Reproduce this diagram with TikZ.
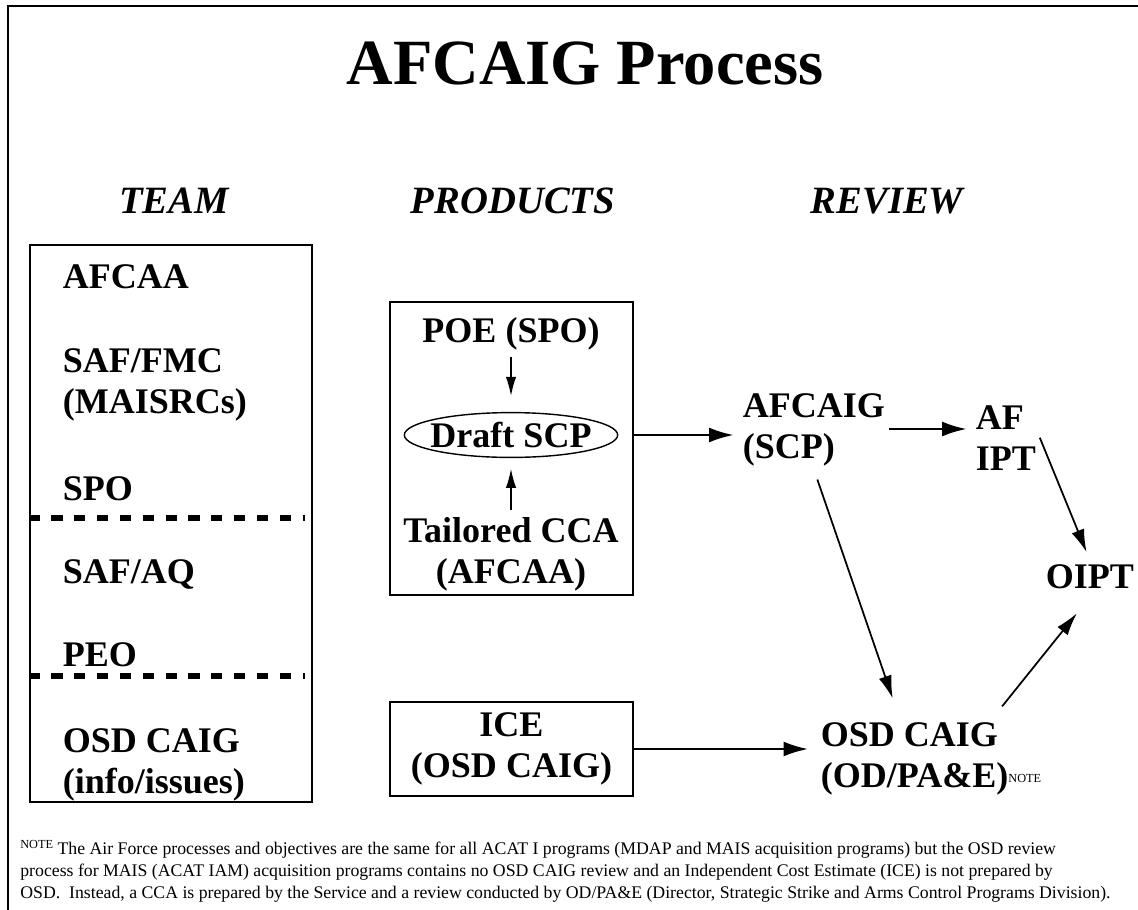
\documentclass[tikz,border=0pt]{standalone}
\usepackage{fontspec}
\setmainfont{Liberation Serif}
\usetikzlibrary{arrows.meta,positioning,fit,shapes.geometric}

\newcommand{\notemark}[1]{\raisebox{#1}{\fontsize{7}{7}\selectfont NOTE}}

\begin{document}
\begin{tikzpicture}[x=0.02cm,y=-0.02cm,>={Latex[length=13pt,width=7.5pt]},
        every node/.style={inner sep=2pt},
        label node/.style={font=\fontsize{20.5}{23.3}\selectfont\bfseries,align=left,anchor=base west},
        head node/.style={font=\fontsize{22}{26}\selectfont\bfseries\itshape,anchor=base},
        box/.style={draw,line width=1.6pt,inner sep=0pt},
        sep line/.style={line width=2.9pt,dash pattern=on 6.3pt off 6.7pt},
        arr/.style={->,line width=1pt},
        big arr/.style={->,line width=1.5pt,>={Latex[length=14pt,width=8.5pt]}},
        small arr/.style={->,line width=1pt,>={Latex[length=11pt,width=6pt]}}]
        \useasboundingbox (0,0) rectangle (1138,909);
        \draw[line width=1.6pt] (8,6) rectangle (1160,930);

        \node[font=\fontsize{36.7}{40}\selectfont\bfseries,anchor=base] (title) at (585,85) {AFCAIG Process};
        \node[head node] (team head) at (174,213) {TEAM};
        \node[head node] (prod head) at (513,213) {PRODUCTS};
        \node[head node] (review head) at (887,213) {REVIEW};

        % team column (base = last line)
        \node[box,fit={(30,245) (312,802)}] (team) {};
        \node[label node] (afcaa) at (59,288) {AFCAA};
        \node[label node] (fmc) at (59,413) {SAF/FMC\\(MAISRCs)};
        \node[label node] (spo) at (59,500) {SPO};
        \node[label node] (aq) at (59,583) {SAF/AQ};
        \node[label node] (peo) at (59,666) {PEO};
        \node[label node] (caig) at (59,793) {OSD CAIG\\(info/issues)};
        \draw[sep line] (team.west |- 0,518) -- (305,518);
        \draw[sep line] (team.west |- 0,676) -- (305,676);

        % products column
        \node[box,fit={(390,302) (633,595)}] (prod) {};
        \node[label node,anchor=base] (poe) at (511,342) {POE (SPO)};
        \node[draw,ellipse,line width=0.8pt,inner xsep=-2.9pt,inner ysep=1.7pt,
              font=\fontsize{20.5}{23.3}\selectfont\bfseries] (draft) at (511,435) {Draft SCP};
        \node[label node,align=center,anchor=base] (cca) at (511,583) {Tailored CCA\\(AFCAA)};
        \node[box,minimum width=4.86cm,minimum height=1.88cm,align=center,
              font=\fontsize{20.5}{23.3}\selectfont\bfseries] (ice) at (511.5,749) {ICE\\(OSD CAIG)};

        % review column
        \node[label node] (scp) at (739,458) {AFCAIG\\(SCP)};
        \node[label node] (afipt) at (972,470) {AF\\IPT};
        \node[label node] (oipt) at (1042,588) {OIPT};
        \node[label node] (osd) at (817,787) {OSD CAIG\\(OD/PA\&E)};
        \node[anchor=base west,inner sep=0pt] (osd note) at (1008,787) {\notemark{2.8pt}};

        \path
        (poe.south) edge[small arr,shorten <=2pt,shorten >=9pt] (draft.north)
        (cca.north) edge[small arr,shorten <=2pt,shorten >=6pt] (draft.south)
        (prod.east |- draft.east) edge[big arr,shorten >=3pt] (scp.west |- draft.east)
        ([yshift=0.82cm]scp.east |- afipt.base) edge[big arr,shorten >=3pt] ([yshift=0.82cm]afipt.base west)
        (afipt.east) edge[arr,shorten >=5pt] (oipt.north)
        (scp.south) edge[arr,shorten <=6pt,shorten >=12pt] ([xshift=-0.3cm]osd.north)
        ([shift={(-10,-12)}]osd.north east) edge[arr] ([shift={(-13,21)}]oipt.south)
        (ice.east) edge[big arr,shorten >=5pt] (osd.west |- ice.east);

        % footnote
        \node[anchor=base west,align=left,inner sep=0pt,font=\fontsize{10.1}{12.5}\selectfont] (footnote) at (20,898)
        {\notemark{3.4pt} The Air Force processes and objectives are the same for all ACAT I programs (MDAP and MAIS acquisition programs) but the OSD review\\
        process for MAIS (ACAT IAM) acquisition programs contains no OSD CAIG review and an Independent Cost Estimate (ICE) is not prepared by\\
        OSD.\ \ Instead, a CCA is prepared by the Service and a review conducted by OD/PA\&E (Director, Strategic Strike and Arms Control Programs Division).};
    \end{tikzpicture}
\end{document}
